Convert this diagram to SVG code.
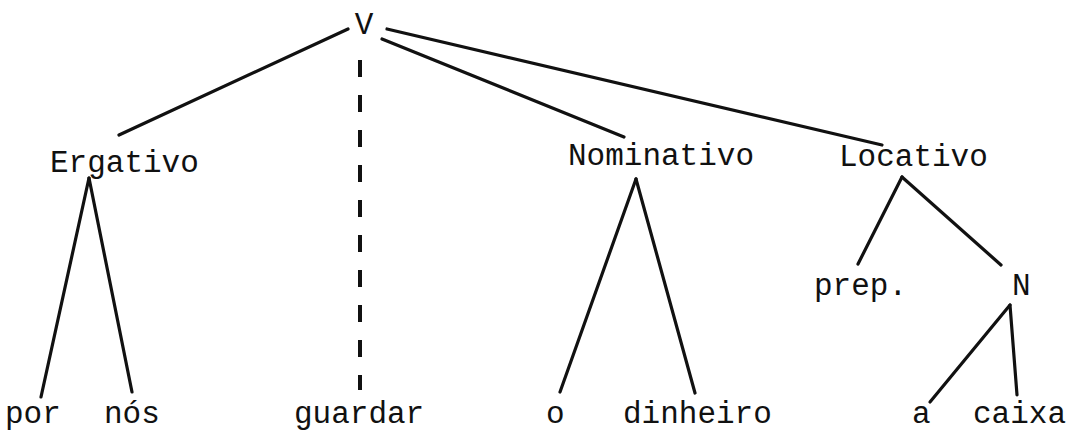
<svg xmlns="http://www.w3.org/2000/svg" width="1078" height="430" viewBox="0 0 1078 430">
<style>
.t{font-family:"Liberation Mono","Courier New",monospace;font-size:31px;fill:#111;}
.e{stroke:#111;stroke-width:3.2;fill:none;stroke-linecap:round;}
.d{stroke:#111;stroke-width:4;fill:none;stroke-dasharray:17 18;}
</style>
<rect width="1078" height="430" fill="#fff"/>
<g id="connectors">
<line class="e" x1="348" y1="29" x2="119" y2="135"/>
<line class="d" x1="360" y1="60" x2="360" y2="390"/>
<line class="e" x1="382" y1="39" x2="624" y2="137"/>
<line class="e" x1="387" y1="29" x2="882" y2="145"/>
<line class="e" x1="89" y1="178" x2="41" y2="397"/>
<line class="e" x1="89" y1="178" x2="132" y2="392"/>
<line class="e" x1="636" y1="179" x2="560" y2="392"/>
<line class="e" x1="636" y1="179" x2="695" y2="393"/>
<line class="e" x1="902" y1="177" x2="858" y2="264"/>
<line class="e" x1="902" y1="177" x2="1001" y2="265"/>
<line class="e" x1="1010" y1="305" x2="930" y2="402"/>
<line class="e" x1="1010" y1="305" x2="1017" y2="395"/>
</g>
<g id="n-V"><text class="t" x="364" y="34" text-anchor="middle">V</text></g>
<g id="n-ergativo"><text class="t" x="50" y="172">Ergativo</text></g>
<g id="n-nominativo"><text class="t" x="568" y="165">Nominativo</text></g>
<g id="n-locativo"><text class="t" x="839" y="166">Locativo</text></g>
<g id="n-prep"><text class="t" x="814" y="295">prep.</text></g>
<g id="n-N"><text class="t" x="1012" y="295">N</text></g>
<g id="n-por"><text class="t" x="5" y="423">por</text></g>
<g id="n-nos"><text class="t" x="104" y="423">nós</text></g>
<g id="n-guardar"><text class="t" x="294" y="423">guardar</text></g>
<g id="n-o"><text class="t" x="546" y="423">o</text></g>
<g id="n-dinheiro"><text class="t" x="623" y="423">dinheiro</text></g>
<g id="n-a"><text class="t" x="912" y="423">a</text></g>
<g id="n-caixa"><text class="t" x="973" y="423">caixa</text></g>
</svg>
